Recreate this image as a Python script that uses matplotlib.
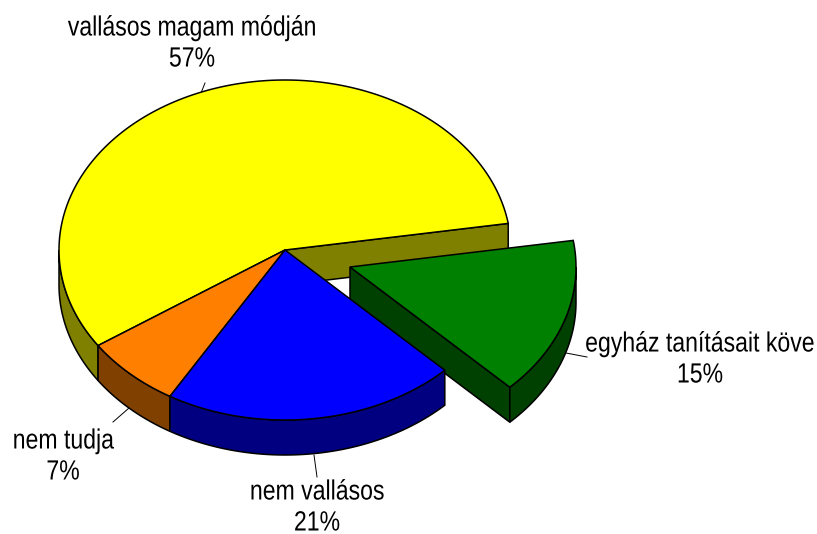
import matplotlib
matplotlib.use('Agg')
import matplotlib.pyplot as plt
from matplotlib.patches import Polygon
from matplotlib.patheffects import AbstractPathEffect
from matplotlib.transforms import Affine2D
import numpy as np

labels = ['vallásos magam módján', 'nem tudja', 'nem vallásos', 'egyház tanításait köve']
values = [57, 7, 21, 15]
tops = ['#ffff00', '#ff8000', '#0000ff', '#008000']
sides = ['#808000', '#804000', '#000080', '#004000']
exploded = [False, False, False, True]
draw_order = [0, 2, 3, 1]

# layout in pixels
cx, cy = 285, 250
rx, ry = 226, 170
depth = 35
start = 9
expl = (65, 17)
label_pos = [(192, 44), (63, 457), (317, 508), (700, 360)]
leader = [(201, 93, 205, 83), (129, 408, 113, 422), (314, 455, 317, 477), (566, 353, 587, 357)]
label_half_width = 114  # half width of the squeezed last label


class Narrow(AbstractPathEffect):
    # reference font is a narrow one, squeeze the text around an anchor (0 left, 0.5 middle, 1 right)
    def __init__(self, sx, anchor=0.5):
        super().__init__()
        self.sx = sx
        self.anchor = anchor

    def draw_path(self, renderer, gc, tpath, affine, rgbFace=None):
        ext = tpath.get_extents()
        mid = ext.x0 + ext.width * self.anchor
        squeeze = Affine2D().translate(-mid, 0).scale(self.sx, 1).translate(mid, 0)
        renderer.draw_path(gc, tpath, squeeze + affine, rgbFace)


plt.rcParams['font.family'] = ['Liberation Sans', 'DejaVu Sans']
fig = plt.figure(figsize=(8.17, 5.34), dpi=100)
ax = fig.add_axes([0, 0, 1, 1])
ax.set_xlim(0, 817)
ax.set_ylim(534, 0)
ax.axis('off')


def arc(a0, a1, ox, oy):
    t = np.radians(np.linspace(a0, a1, 200))
    return np.column_stack([cx + ox + rx * np.cos(t), cy + oy - ry * np.sin(t)])


def draw_slice(a0, a1, top, side, ox, oy, z):
    lw = 1.1
    apex = np.array([cx + ox, cy + oy])
    down = np.array([0, depth])
    # only the cut face at the start of the slice can be seen here
    if np.cos(np.radians(a0)) > 0:
        p = arc(a0, a0, ox, oy)[0]
        ax.add_patch(Polygon([apex, p, p + down, apex + down], fc=side, ec='black', lw=lw, zorder=z))
    # rim, only the part facing the viewer
    lo, hi = max(a0, 180), min(a1, 360)
    if hi > lo:
        rim = arc(lo, hi, ox, oy)
        ax.add_patch(Polygon(np.vstack([rim, rim[::-1] + down]), fc=side, ec='black', lw=lw, zorder=z + 0.1))
    ax.add_patch(Polygon(np.vstack([apex, arc(a0, a1, ox, oy)]), fc=top, ec='black', lw=lw, zorder=z + 0.2))


a = start
for i in range(len(values)):
    span = values[i] / sum(values) * 360
    ox, oy = expl if exploded[i] else (0, 0)
    draw_slice(a, a + span, tops[i], sides[i], ox, oy, 2 + draw_order[i])
    a += span

for i in range(len(labels)):
    x0, y0, x1, y1 = leader[i]
    ax.plot([x0, x1], [y0, y1], color='black', lw=0.7, zorder=1)
    x, y = label_pos[i]
    if exploded[i]:
        # anchored right so the unsqueezed box stays inside the figure
        ax.text(x + label_half_width, y - 15.5, labels[i], ha='right', va='center', fontsize=20, zorder=20,
                path_effects=[Narrow(0.83, 1)])
    else:
        ax.text(x, y - 15.5, labels[i], ha='center', va='center', fontsize=20, zorder=20,
                path_effects=[Narrow(0.83)])
    ax.text(x, y + 15.5, '%d%%' % values[i], ha='center', va='center', fontsize=20, zorder=20,
            path_effects=[Narrow(0.83)])

fig.savefig('out.png', dpi=100)
